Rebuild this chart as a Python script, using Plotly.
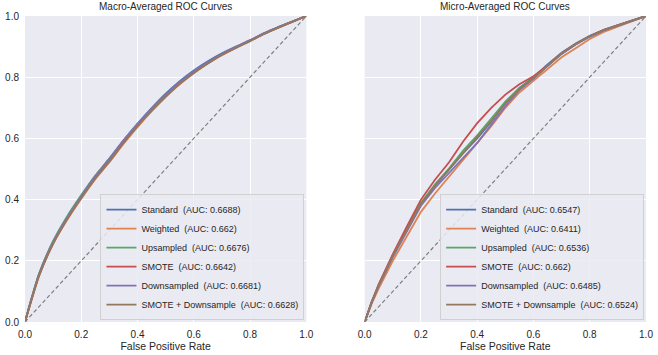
import plotly.graph_objects as go

# ---------------- data ----------------
series_names = ["Standard", "Weighted", "Upsampled", "SMOTE", "Downsampled", "SMOTE + Downsample"]
macro_auc = ["0.6688", "0.662", "0.6676", "0.6642", "0.6681", "0.6628"]
micro_auc = ["0.6547", "0.6411", "0.6536", "0.662", "0.6485", "0.6524"]
colors = ["#4C72B0", "#DD8452", "#55A868", "#C44E52", "#8172B3", "#937860"]

macro_fpr = [0, 0.02, 0.05, 0.1, 0.15, 0.2, 0.25, 0.3, 0.35, 0.4, 0.45, 0.5,
             0.55, 0.6, 0.65, 0.7, 0.75, 0.8, 0.85, 0.9, 0.95, 1.0]
macro_standard = [0, 0.066, 0.156, 0.262, 0.342, 0.412, 0.477, 0.533, 0.593, 0.648, 0.699, 0.746,
                  0.787, 0.822, 0.852, 0.878, 0.900, 0.921, 0.944, 0.964, 0.982, 1.0]
macro_weighted = [0, 0.062, 0.150, 0.255, 0.334, 0.403, 0.467, 0.522, 0.582, 0.637, 0.688, 0.735,
                  0.777, 0.813, 0.845, 0.872, 0.896, 0.918, 0.941, 0.962, 0.981, 1.0]
macro_upsampled = [0, 0.067, 0.158, 0.265, 0.346, 0.415, 0.479, 0.534, 0.592, 0.646, 0.696, 0.742,
                   0.783, 0.818, 0.848, 0.875, 0.898, 0.920, 0.943, 0.963, 0.982, 1.0]
macro_smote = [0, 0.064, 0.153, 0.258, 0.338, 0.408, 0.472, 0.528, 0.587, 0.643, 0.693, 0.739,
               0.780, 0.815, 0.846, 0.874, 0.897, 0.919, 0.942, 0.962, 0.981, 1.0]
macro_downsampled = [0, 0.066, 0.156, 0.261, 0.341, 0.411, 0.477, 0.534, 0.594, 0.647, 0.697, 0.743,
                     0.784, 0.819, 0.849, 0.876, 0.899, 0.920, 0.943, 0.963, 0.982, 1.0]
macro_smote_down = [0, 0.063, 0.151, 0.256, 0.336, 0.405, 0.469, 0.525, 0.585, 0.640, 0.691, 0.737,
                    0.778, 0.814, 0.845, 0.873, 0.896, 0.918, 0.941, 0.962, 0.981, 1.0]

micro_fpr = [0, 0.025, 0.05, 0.1, 0.15, 0.2, 0.25, 0.3, 0.35, 0.4, 0.45, 0.5,
             0.55, 0.6, 0.65, 0.7, 0.75, 0.8, 0.85, 0.9, 0.95, 1.0]
micro_standard = [0, 0.065, 0.12, 0.215, 0.300, 0.385, 0.445, 0.497, 0.552, 0.600, 0.655, 0.715,
                  0.765, 0.800, 0.842, 0.880, 0.910, 0.935, 0.955, 0.970, 0.985, 1.0]
micro_weighted = [0, 0.060, 0.11, 0.200, 0.280, 0.360, 0.420, 0.475, 0.530, 0.585, 0.640, 0.700,
                  0.750, 0.788, 0.825, 0.865, 0.895, 0.925, 0.948, 0.965, 0.983, 1.0]
micro_upsampled = [0, 0.066, 0.122, 0.218, 0.305, 0.390, 0.450, 0.502, 0.560, 0.610, 0.665, 0.720,
                   0.765, 0.798, 0.838, 0.877, 0.908, 0.933, 0.954, 0.969, 0.985, 1.0]
micro_smote = [0, 0.066, 0.124, 0.222, 0.312, 0.400, 0.465, 0.522, 0.590, 0.650, 0.700, 0.743,
               0.777, 0.803, 0.838, 0.877, 0.908, 0.934, 0.955, 0.970, 0.985, 1.0]
micro_downsampled = [0, 0.064, 0.118, 0.212, 0.296, 0.380, 0.438, 0.488, 0.535, 0.585, 0.645, 0.705,
                     0.758, 0.795, 0.836, 0.876, 0.907, 0.932, 0.953, 0.969, 0.984, 1.0]
micro_smote_down = [0, 0.065, 0.121, 0.216, 0.302, 0.386, 0.446, 0.498, 0.553, 0.602, 0.657, 0.714,
                    0.762, 0.797, 0.838, 0.878, 0.909, 0.934, 0.954, 0.970, 0.985, 1.0]

macro_series = [macro_standard, macro_weighted, macro_upsampled, macro_smote, macro_downsampled, macro_smote_down]
micro_series = [micro_standard, micro_weighted, micro_upsampled, micro_smote, micro_downsampled, micro_smote_down]

diag = [0, 1]
tick_vals = [0, 0.2, 0.4, 0.6, 0.8, 1.0]
tick_text = ["0.0", "0.2", "0.4", "0.6", "0.8", "1.0"]

# ---------------- figure ----------------
FONT = "Liberation Sans, Arial, sans-serif"
TXT = "#262626"
GAP = " \u00a0"
fig = go.Figure()

for name, auc, col, ys in zip(series_names, macro_auc, colors, macro_series):
    fig.add_trace(go.Scatter(x=macro_fpr, y=ys, mode="lines", name=f"{name}{GAP}(AUC: {auc})",
                             line=dict(color=col, width=1.8, shape="spline", smoothing=0.6),
                             xaxis="x", yaxis="y", legend="legend"))
fig.add_trace(go.Scatter(x=diag, y=diag, mode="lines", showlegend=False,
                         line=dict(color="#808080", width=1.2, dash="4px,2.5px"), xaxis="x", yaxis="y"))

for name, auc, col, ys in zip(series_names, micro_auc, colors, micro_series):
    fig.add_trace(go.Scatter(x=micro_fpr, y=ys, mode="lines", name=f"{name}{GAP}(AUC: {auc})",
                             line=dict(color=col, width=1.8), xaxis="x2", yaxis="y2", legend="legend2"))
fig.add_trace(go.Scatter(x=diag, y=diag, mode="lines", showlegend=False,
                         line=dict(color="#808080", width=1.2, dash="4px,2.5px"), xaxis="x2", yaxis="y2"))

axis_common = dict(range=[0, 1], tickvals=tick_vals, ticktext=tick_text, showgrid=True,
                   gridcolor="white", gridwidth=1, zeroline=False, showline=False,
                   ticks="", tickfont=dict(size=10, color=TXT, family=FONT))

legend_common = dict(bgcolor="rgba(234,234,242,0.85)", bordercolor="#d0d0d0", borderwidth=1,
                     font=dict(size=9, color=TXT, family=FONT), xanchor="right", yanchor="bottom",
                     tracegroupgap=0, itemwidth=30)

fig.update_layout(
    width=658, height=355,
    margin=dict(l=24, r=5, t=16, b=32),
    paper_bgcolor="white", plot_bgcolor="#EAEAF2",
    font=dict(family=FONT, color=TXT),
    xaxis=dict(domain=[0, 0.453], anchor="y", ticklabelstandoff=5,
               title=dict(text="False Positive Rate", font=dict(size=10.5, color=TXT), standoff=3),
               **axis_common),
    yaxis=dict(domain=[0, 1], anchor="x", ticklabelstandoff=5, **axis_common),
    xaxis2=dict(domain=[0.547, 1.0], anchor="y2", ticklabelstandoff=5,
                title=dict(text="False Positive Rate", font=dict(size=10.5, color=TXT), standoff=3),
                **axis_common),
    yaxis2=dict(domain=[0, 1], anchor="x2", showticklabels=False,
                **{k: v for k, v in axis_common.items() if k != "tickfont"}),
    legend=dict(x=0.450, y=0.006, **legend_common),
    legend2=dict(x=0.997, y=0.006, **legend_common),
    annotations=[
        dict(text="Macro-Averaged ROC Curves", x=0.2265, y=1.0, xref="paper", yref="paper",
             xanchor="center", yanchor="bottom", yshift=2, showarrow=False,
             font=dict(size=10, color=TXT, family=FONT)),
        dict(text="Micro-Averaged ROC Curves", x=0.7735, y=1.0, xref="paper", yref="paper",
             xanchor="center", yanchor="bottom", yshift=2, showarrow=False,
             font=dict(size=10, color=TXT, family=FONT)),
    ],
)

fig.write_html("out.html")
